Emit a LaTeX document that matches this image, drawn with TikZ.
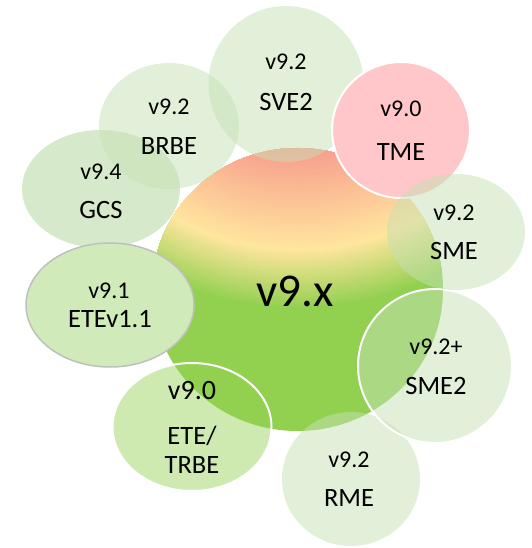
\documentclass[tikz,border=0pt]{standalone}
\usepackage{fontspec}
\setmainfont{Carlito}
\usetikzlibrary{shapes.geometric}
\definecolor{gred}{HTML}{F8A08E}
\definecolor{gyel}{HTML}{FFE69E}
\definecolor{ggrn}{HTML}{92D050}
\definecolor{lgrn}{HTML}{C5E0B4}
\definecolor{tmepink}{HTML}{FFC7C9}
\definecolor{etegrn}{HTML}{D0EAB9}
\definecolor{bordergray}{HTML}{BFBFBF}
\begin{document}
\begin{tikzpicture}[x=1pt,y=-1pt,
  sat/.style={ellipse, inner sep=0pt, fill=lgrn, fill opacity=0.5},
  whiteedge/.style={draw=white, line width=2pt, draw opacity=1},
  ver/.style={font=\fontsize{24}{24}\selectfont, inner sep=0pt, text=black},
  nm/.style={font=\fontsize{26.5}{26.5}\selectfont, inner sep=0pt, text=black}]
\useasboundingbox (0,0) rectangle (531,548);

% central gradient disc
\begin{scope}
  \clip (297.5,289.5) ellipse [x radius=145.5, y radius=141.5];
  \fill[ggrn] (150,145) rectangle (445,435);
  \foreach \r in {320,318,...,262}{
    \pgfmathtruncatemacro{\p}{(\r-261)/59*100}
    \fill[ggrn!\p!gyel] (297.5,-11) circle[radius=\r];
  }
  \foreach \r in {261,259,...,165}{
    \pgfmathtruncatemacro{\p}{(\r-165)/96*100}
    \fill[gyel!\p!gred] (297.5,-11) circle[radius=\r];
  }
\end{scope}
\node[ellipse, inner sep=0pt, minimum width=291pt, minimum height=283pt] (core) at (297.5,289.5) {};

% satellites
\node[sat, minimum width=155pt, minimum height=156pt] (sve) at (286,84) {};
\node[sat, minimum width=140pt, minimum height=126pt] (brbe) at (169,126) {};
\node[sat, fill opacity=0.7, minimum width=158pt, minimum height=118pt] (gcs) at (101,189) {};
\node[ellipse, inner sep=0pt, fill=etegrn, draw=bordergray, line width=1.5pt, minimum width=168pt, minimum height=124pt] (etev) at (110,305) {};
\node[ellipse, inner sep=0pt, fill=ggrn, fill opacity=0.45, whiteedge, minimum width=159pt, minimum height=128pt] (trbe) at (192,427) {};
\node[sat, minimum width=138pt, minimum height=134pt] (rme) at (351,479) {};
\node[sat, whiteedge, minimum width=154pt, minimum height=154pt] (smetwo) at (435,366) {};
\node[ellipse, inner sep=0pt, fill=tmepink, whiteedge, minimum width=138pt, minimum height=136pt] (tme) at (401,130) {};
\node[sat, minimum width=138pt, minimum height=116pt] (sme) at (456,232) {};

% labels
\node[font=\fontsize{47}{47}\selectfont, inner sep=0pt] (corelbl) at (295,291) {v9.x};

\node[ver] (svev) at (286,62) {v9.2};
\node[nm]  (sven) at (286,102) {SVE2};
\node[ver] (brbev) at (169,107) {v9.2};
\node[nm]  (brben) at (169,146) {BRBE};
\node[ver] (gcsv) at (101,172) {v9.4};
\node[nm]  (gcsn) at (101,210) {GCS};
\node[ver] (etevv) at (109,291) {v9.1};
\node[nm]  (etevn) at (110,319) {ETEv1.1};
\node[font=\fontsize{28}{28}\selectfont, inner sep=0pt] (trbev) at (192,391) {v9.0};
\node[nm]  (trben) at (192,436) {ETE/};
\node[nm]  (trbem) at (192,465) {TRBE};
\node[ver] (rmev) at (349,460) {v9.2};
\node[nm]  (rmen) at (349,498) {RME};
\node[ver] (smetwov) at (436,347) {v9.2+};
\node[nm]  (smetwon) at (436,386) {SME2};
\node[ver] (smev) at (454,213) {v9.2};
\node[nm]  (smen) at (454,251) {SME};
\node[ver] (tmev) at (401,109) {v9.0};
\node[nm]  (tmen) at (401,152) {TME};
\end{tikzpicture}
\end{document}
